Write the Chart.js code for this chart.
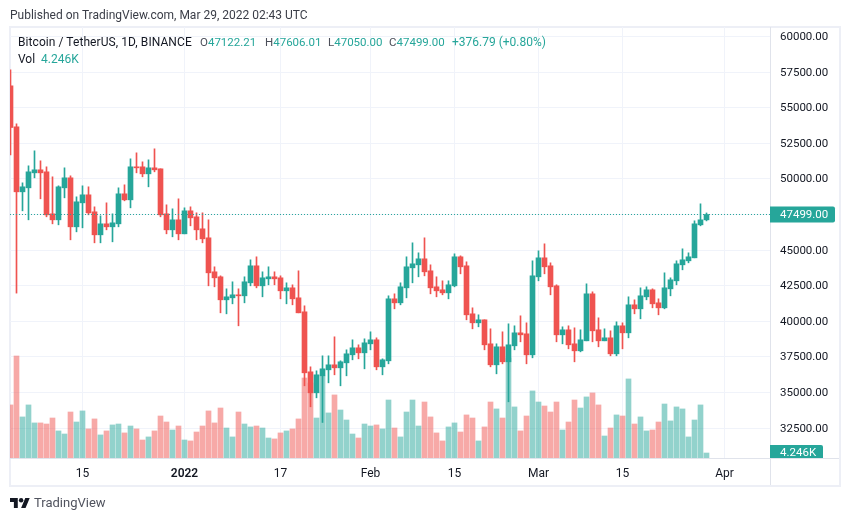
<!DOCTYPE html>
<html>
<head>
<meta charset="utf-8">
<title>BTCUSDT</title>
<script src="https://cdn.jsdelivr.net/npm/chart.js@4/dist/chart.umd.min.js"></script>
<style>
  html, body { margin: 0; padding: 0; background: #fff; }
  #wrap { position: relative; width: 850px; height: 521px; overflow: hidden; font-family: Roboto, sans-serif; }
  #wrap canvas { position: absolute; left: 0; top: 0; }
  .txt { position: absolute; white-space: nowrap; font-size: 12px; line-height: 16px; color: #131722; }
  .ohlc { font-size: 11.5px; color: #4c4f5a; }
  .val { color: #26a69a; }
  #logo { position: absolute; left: 10px; top: 498px; }
</style>
</head>
<body>
<div id="wrap">
  <canvas id="chart" width="850" height="521"></canvas>
  <div class="txt" style="left:10px;top:7px;color:#3a3d47">Published on TradingView.com, Mar 29, 2022 02:43 UTC</div>
  <div class="txt" style="left:18px;top:34px;letter-spacing:.07px">Bitcoin / TetherUS, 1D, BINANCE</div>
  <div class="txt ohlc" style="left:200px;top:34px">O<span class="val">47122.21</span></div>
  <div class="txt ohlc" style="left:265px;top:34px">H<span class="val">47606.01</span></div>
  <div class="txt ohlc" style="left:328px;top:34px">L<span class="val">47050.00</span></div>
  <div class="txt ohlc" style="left:389px;top:34px">C<span class="val">47499.00</span></div>
  <div class="txt val" style="left:452px;top:34px">+376.79 (+0.80%)</div>
  <div class="txt" style="left:18px;top:51px">Vol</div>
  <div class="txt val" style="left:41px;top:51px">4.246K</div>
  <svg id="logo" width="20" height="10" viewBox="0 4 36 18"><path fill="#131722" d="M14 22H7V11H0V4h14v18zM28 22h-8l7.5-18h8L28 22z"/><circle fill="#131722" cx="20" cy="8" r="4"/></svg>
  <div class="txt" style="left:34px;top:495px;font-size:13px;color:#50535e">TradingView</div>
</div>
<script>
// One entry per daily candle, first one is Dec 3 2021
const opens = [
  56532,53654,49091,49371,50424,50635,50495,47546,47125,49371,50073,46634,48318,48880,47687,46072,
  46844,46634,46844,48950,48529,50846,50846,50354,50775,50705,47546,46423,47125,46142,47757,47335,
  46493,45861,43475,43124,41509,41649,41860,41790,42702,43896,42492,42983,43124,43053,42141,42351,
  41649,40667,36455,34980,36174,36595,36946,36735,37086,37648,38139,37788,38420,38701,36805,37227,
  41579,41298,42351,43755,43966,44387,43545,42422,42211,42000,42492,44528,43896,40526,39894,40105,
  38420,36946,38210,37157,38280,39192,39122,37648,43124,44457,
  43896,42492,39052,39403,38420,37929,38631,41930,39403,38631,38841,37718,39684,39192,41158,40877,
  41720,42211,41298,40947,42281,42843,43966,44247,44457,46774,47122.21
];
const closes = [
  53607,49091,49442,50495,50635,50424,47476,47125,49442,50073,46634,48389,48880,47616,46072,46844,
  46634,46914,48950,48529,50846,50775,50354,50775,50635,47476,46423,47125,46142,47757,47265,46423,
  45791,43404,43053,41509,41720,41860,41790,42773,43896,42492,43053,43124,42983,42141,42351,41579,
  40596,36384,34980,36244,36665,36946,36735,37157,37718,38139,37788,38490,38701,36805,37297,41579,
  41298,42422,43826,44036,44387,43475,42351,42141,42000,42562,44528,43826,40456,39894,40105,38350,
  36946,38210,37157,38350,39192,39052,37648,43194,44457,43826,
  42422,39052,39403,38350,37929,38701,41930,39333,38631,38841,37718,39684,39192,41158,40877,41790,
  42211,41228,40947,42351,42913,44036,44317,44528,46844,47125,47499
];
const highs = [
  57655,53864,49722,50916,51969,51267,50846,50144,49512,50775,50214,48739,49512,49442,48037,47406,
  48318,47546,49371,49582,51407,51828,51196,51337,52109,50705,48178,47897,48599,47967,48037,47616,
  47616,47125,43826,43194,42281,42773,42281,43124,44317,44528,43475,43826,43475,43194,42702,42562,
  43545,41088,36805,36525,37578,37578,38912,37227,37999,38701,38350,38771,39263,38841,37367,41790,
  41930,42702,44528,45510,44808,45861,43966,43124,42843,42843,44738,44598,44177,40947,40456,40105,
  39473,38420,39263,39824,39684,40386,39894,44247,44949,45440,
  44106,42562,39614,39684,39543,39403,42632,42071,40245,39473,39333,39965,39894,41720,41509,42351,
  42422,42281,41579,43404,43053,44247,45089,44808,47055,48248,47606.01
];
const lows = [
  51688,41980,47757,47125,50073,48599,47336,46844,46774,48669,45721,46282,46563,47476,45510,45510,
  46423,45581,46634,48459,47967,50424,50144,49442,50495,47336,46142,45932,45721,46142,46704,45721,
  45510,42492,42422,40596,40526,41228,39684,41298,42492,42351,41720,42562,42562,41579,41228,41158,
  40596,35472,33998,34629,32898,35682,36244,35472,36174,37297,37367,36665,37999,36595,36244,37016,
  40877,41158,41649,42702,43124,43194,41930,41720,41860,41579,42422,43334,40105,39473,39614,37999,
  36805,36314,37016,34349,37999,38561,37016,37437,42843,43334,
  41860,38561,38420,38069,37156,37858,38631,38561,38210,38631,37578,37578,38069,38841,40526,40175,
  41509,40947,40456,40877,41790,42562,43615,44106,44457,46704,47050
];
// volume in thousands
const volumes = [
  45.1,86.7,34.9,45.1,29.8,29.8,28.9,34.0,23.0,20.4,39.1,30.6,40.0,24.7,33.2,19.6,
  23.0,28.1,28.9,21.3,27.2,24.7,15.3,17.9,23.0,35.7,30.6,23.8,27.2,15.3,14.5,22.1,
  27.2,40.0,29.8,42.5,25.5,17.9,39.1,28.9,26.4,27.2,25.5,17.0,16.2,21.3,23.0,24.7,
  33.2,68.0,63.8,34.0,69.7,38.3,53.6,40.8,32.3,20.4,17.0,28.9,27.2,28.1,24.7,49.3,
  25.5,17.9,39.1,49.3,27.2,47.6,34.9,21.3,14.5,26.4,29.8,22.1,36.6,34.0,14.5,26.4,
  47.6,41.7,34.0,85.0,43.4,23.0,35.7,57.0,47.6,44.2,39.1,47.6,23.8,30.6,49.3,42.5,
  51.9,55.3,45.1,18.7,25.5,36.6,35.7,67.2,28.9,34.9,23.0,23.8,30.6,45.9,31.5,43.4,
  41.7,17.9,32.3,45.1,4.246
];

const priceTicks = [32500,35000,37500,40000,42500,45000,47500,50000,52500,55000,57500,60000];
const timeTickDays = [12,29,45,60,74,88,102,119];
const timeTickLabels = ['15','2022','17','Feb','15','Mar','15','Apr'];
const lastPrice = 47499;
const lastPriceText = '47499.00';
const lastVolume = 4.246;
const lastVolumeText = '4.246K';

const UP = '#26a69a';
const DOWN = '#ef5350';
const UP_VOL = 'rgba(38,166,154,0.5)';
const DOWN_VOL = 'rgba(239,83,80,0.5)';
const GRID = '#f0f3fa';
const FONT = 'Roboto, sans-serif';

const candleColors = closes.map((c, i) => c >= opens[i] ? UP : DOWN);
const volumeColors = closes.map((c, i) => c >= opens[i] ? UP_VOL : DOWN_VOL);

// frame around the pane and the two axis separators
const framePlugin = {
  id: 'frame',
  beforeDraw(chart) {
    const c = chart.ctx;
    const a = chart.chartArea;
    c.save();
    c.strokeStyle = '#edeff6';
    c.lineWidth = 2;
    c.strokeRect(a.left, a.top, 830, 459);
    c.restore();
  },
  afterDraw(chart) {
    const c = chart.ctx;
    const a = chart.chartArea;
    c.save();
    c.strokeStyle = '#e0e3eb';
    c.lineWidth = 1;
    c.beginPath();
    c.moveTo(a.right + 0.5, a.top);
    c.lineTo(a.right + 0.5, 485);
    c.moveTo(a.left, a.bottom + 0.5);
    c.lineTo(839, a.bottom + 0.5);
    c.stroke();

    // last price and last volume badges
    c.textBaseline = 'middle';
    c.textAlign = 'left';
    c.font = '11.5px ' + FONT;
    const py = chart.scales.y.getPixelForValue(lastPrice);
    c.fillStyle = UP;
    c.beginPath();
    c.roundRect(a.right, py - 8, 65, 16, [0, 2, 2, 0]);
    c.fill();
    c.fillStyle = '#fff';
    c.fillText(lastPriceText, a.right + 10, py + 0.5);

    const vy = chart.scales.yVol.getPixelForValue(lastVolume);
    c.beginPath();
    c.rect(a.right, a.top, 70, a.bottom - a.top);
    c.clip();
    c.fillStyle = UP;
    c.beginPath();
    c.roundRect(a.right, vy - 8, 53, 16, [0, 2, 2, 0]);
    c.fill();
    c.fillStyle = '#fff';
    c.fillText(lastVolumeText, a.right + 10, vy + 0.5);
    c.restore();
  }
};

new Chart(document.getElementById('chart').getContext('2d'), {
  type: 'bar',
  data: {
    datasets: [
      {
        label: 'Last',
        type: 'line',
        data: [{ x: -1, y: lastPrice }, { x: 127, y: lastPrice }],
        borderColor: UP,
        borderWidth: 1,
        borderDash: [1, 2],
        borderDashOffset: 0.5,
        pointRadius: 0,
        yAxisID: 'y',
        order: 0
      },
      {
        label: 'Body',
        data: opens.map((o, i) => ({ x: i, y: [o, closes[i]] })),
        backgroundColor: candleColors,
        barThickness: 5,
        grouped: false,
        yAxisID: 'y',
        order: 1
      },
      {
        label: 'Wick',
        data: highs.map((h, i) => ({ x: i, y: [lows[i], h] })),
        backgroundColor: candleColors,
        barThickness: 1,
        grouped: false,
        yAxisID: 'y',
        order: 2
      },
      {
        label: 'Vol',
        data: volumes.map((v, i) => ({ x: i, y: v })),
        backgroundColor: volumeColors,
        barThickness: 5,
        grouped: false,
        yAxisID: 'yVol',
        order: 3
      }
    ]
  },
  options: {
    responsive: false,
    animation: false,
    layout: { padding: { left: 10, top: 27, right: 10, bottom: 35 } },
    plugins: { legend: { display: false }, tooltip: { enabled: false } },
    elements: { bar: { borderWidth: 0, borderSkipped: false } },
    scales: {
      x: {
        type: 'linear',
        offset: false,
        min: -0.0833,
        max: 126.5833,
        afterBuildTicks: scale => { scale.ticks = timeTickDays.map(v => ({ value: v })); },
        afterFit: scale => { scale.height = 28; },
        grid: { color: GRID, drawTicks: false, offset: false },
        border: { display: false },
        ticks: {
          autoSkip: false,
          maxRotation: 0,
          padding: 9,
          color: '#131722',
          font: ctx => ({ family: FONT, size: 12, weight: ctx.tick && ctx.tick.value === 29 ? '600' : '400' }),
          callback: v => timeTickLabels[timeTickDays.indexOf(v)]
        }
      },
      y: {
        position: 'right',
        min: 30404,
        max: 60662,
        afterBuildTicks: scale => { scale.ticks = priceTicks.map(v => ({ value: v })); },
        afterFit: scale => { scale.width = 70; },
        grid: { color: GRID, drawTicks: false },
        border: { display: false },
        ticks: {
          padding: 10,
          labelOffset: 0.6,
          color: '#131722',
          font: { family: FONT, size: 11.5 },
          callback: v => v.toFixed(2)
        }
      },
      yVol: {
        display: false,
        min: 0,
        max: 366.35,
        grid: { display: false }
      }
    }
  },
  plugins: [framePlugin]
});
</script>
</body>
</html>
